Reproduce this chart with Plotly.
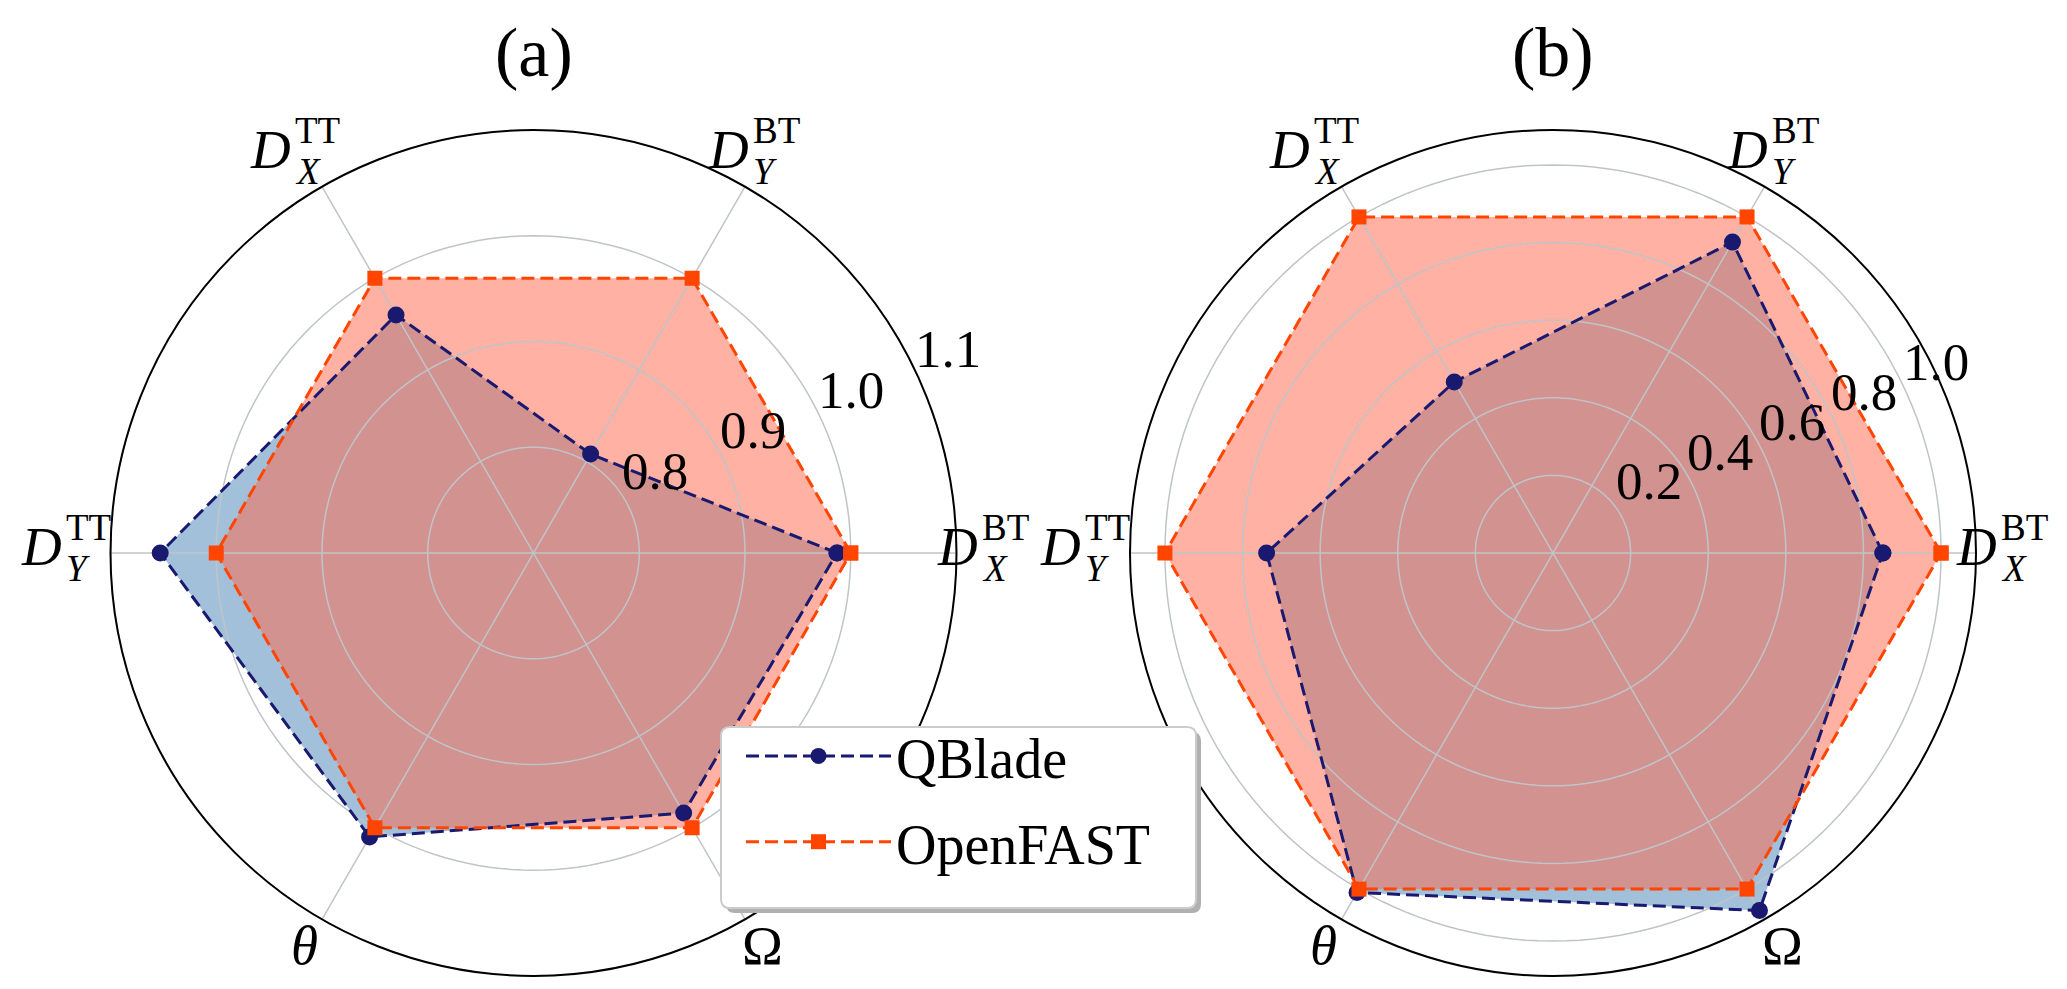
import math
import plotly.graph_objects as go

# ---------------- data ----------------
categories = ["D_X^BT", "D_Y^BT", "D_X^TT", "D_Y^TT", "theta", "Omega"]
label_main = ["D", "D", "D", "D", "θ", "Ω"]
label_sup = ["BT", "BT", "TT", "TT", "", ""]
label_sub = ["X", "Y", "X", "Y", "", ""]
label_italic = [True, True, True, True, True, False]

series_names = ["QBlade", "OpenFAST"]
qblade_a = [0.987, 0.808, 0.960, 1.053, 1.010, 0.984]
openfast_a = [1.0, 1.0, 1.0, 1.0, 1.0, 1.0]
qblade_b = [0.850, 0.925, 0.509, 0.738, 1.010, 1.064]
openfast_b = [1.0, 1.0, 1.0, 1.0, 1.0, 1.0]

panel_titles = ["(a)", "(b)"]
ticks_a = [0.8, 0.9, 1.0, 1.1]
ticks_b = [0.2, 0.4, 0.6, 0.8, 1.0]
range_a = [0.7, 1.1]
range_b = [0.0, 1.09]

# ---------------- style / layout ----------------
W, H = 2067, 989
R = 423
centers = [(525.5, 545.0), (1545.0, 545.0)]
FONT = "Liberation Serif"
QCOL = "#191970"
OCOL = "#FF4500"
QFILL = "rgba(70,130,180,0.5)"
OFILL = "rgba(255,99,71,0.5)"
GRID = "#c0c4c8"
RAD_LABEL_ANGLE = 22.5

n = len(categories)
angles = [i * 360.0 / n for i in range(n)]

panels = [
    dict(q=qblade_a, o=openfast_a, ticks=ticks_a, rng=range_a, title=panel_titles[0]),
    dict(q=qblade_b, o=openfast_b, ticks=ticks_b, rng=range_b, title=panel_titles[1]),
]


def px(x):
    return x / W


def py(y):
    return 1 - y / H


def ann(text, x, y, size, xanchor="center", yshift=0):
    return dict(text=text, x=px(x), y=py(y), xref="paper", yref="paper",
                xanchor=xanchor, yanchor="middle", yshift=yshift, showarrow=False,
                borderpad=0, font=dict(family=FONT, size=size, color="black"))


fig = go.Figure()
annotations = []
layout_polars = {}

for k, p in enumerate(panels):
    sub = "polar" if k == 0 else "polar2"
    th = angles + angles[:1]
    q = p["q"] + p["q"][:1]
    o = p["o"] + p["o"][:1]
    # fills
    fig.add_trace(go.Scatterpolar(r=q, theta=th, mode="lines", line=dict(width=0, color=QCOL),
                                  fill="toself", fillcolor=QFILL, subplot=sub,
                                  showlegend=False, hoverinfo="skip"))
    fig.add_trace(go.Scatterpolar(r=o, theta=th, mode="lines", line=dict(width=0, color=OCOL),
                                  fill="toself", fillcolor=OFILL, subplot=sub,
                                  showlegend=False, hoverinfo="skip"))
    # grid rings and spokes (above fills, below lines)
    ring_theta = list(range(0, 361, 2))
    for t in p["ticks"]:
        fig.add_trace(go.Scatterpolar(r=[t] * len(ring_theta), theta=ring_theta, mode="lines",
                                      line=dict(color=GRID, width=1.5), subplot=sub,
                                      showlegend=False, hoverinfo="skip"))
    for a in angles:
        fig.add_trace(go.Scatterpolar(r=[p["rng"][0], p["rng"][1]], theta=[a, a], mode="lines",
                                      line=dict(color=GRID, width=1.5), subplot=sub,
                                      showlegend=False, hoverinfo="skip"))
    # data lines
    fig.add_trace(go.Scatterpolar(r=q, theta=th, mode="lines+markers", name=series_names[0],
                                  legendgroup="g1",
                                  line=dict(color=QCOL, width=3, dash="13px,6px"),
                                  marker=dict(symbol="circle", size=17, color=QCOL),
                                  subplot=sub, showlegend=(k == 0)))
    fig.add_trace(go.Scatterpolar(r=o, theta=th, mode="lines+markers", name=series_names[1],
                                  legendgroup="g2",
                                  line=dict(color=OCOL, width=3, dash="13px,6px"),
                                  marker=dict(symbol="square", size=15, color=OCOL),
                                  subplot=sub, showlegend=(k == 0)))

    cx, cy = centers[k]
    layout_polars[sub] = dict(
        domain=dict(x=[px(cx - R), px(cx + R)], y=[py(cy + R), py(cy - R)]),
        bgcolor="white",
        radialaxis=dict(range=p["rng"], tickvals=p["ticks"], showticklabels=False,
                        showline=False, ticks="", showgrid=False),
        angularaxis=dict(direction="counterclockwise", rotation=0, tickvals=angles,
                         showticklabels=False, ticks="", showgrid=False,
                         showline=True, linecolor="black", linewidth=2),
    )

    # panel title
    annotations.append(ann(p["title"], cx, 44, 70))
    # radial tick labels, placed along the 22.5 degree direction
    ca = math.cos(math.radians(RAD_LABEL_ANGLE))
    sa = math.sin(math.radians(RAD_LABEL_ANGLE))
    r0, r1 = p["rng"]
    for t in p["ticks"]:
        rho = (t - r0) / (r1 - r0) * R
        annotations.append(ann(f"{t:.1f}", cx + rho * ca + 58, cy - rho * sa - 42, 53,
                               xanchor="right"))
    # category labels
    RL = 458
    for i in range(n):
        a = math.radians(angles[i])
        lx = cx + RL * math.cos(a)
        ly = cy - RL * math.sin(a)
        main = f"<i>{label_main[i]}</i>" if label_italic[i] else label_main[i]
        if label_sup[i]:
            jx = lx - 13
            s = 7
            annotations.append(ann(main, jx, ly, 55, xanchor="right", yshift=s))
            annotations.append(ann(label_sup[i], jx + 2, ly, 37, xanchor="left", yshift=s + 19))
            annotations.append(ann(f"<i>{label_sub[i]}</i>", jx + 2, ly, 37, xanchor="left",
                                   yshift=s - 22))
        else:
            annotations.append(ann(main, lx, ly, 55, yshift=4))


# legend frame (rounded box with drop shadow) drawn as shapes behind the legend
def rounded_rect(x0, y0, x1, y1, rad):
    pts = [
        f"M{px(x0 + rad)},{py(y0)}",
        f"L{px(x1 - rad)},{py(y0)}",
        f"Q{px(x1)},{py(y0)} {px(x1)},{py(y0 + rad)}",
        f"L{px(x1)},{py(y1 - rad)}",
        f"Q{px(x1)},{py(y1)} {px(x1 - rad)},{py(y1)}",
        f"L{px(x0 + rad)},{py(y1)}",
        f"Q{px(x0)},{py(y1)} {px(x0)},{py(y1 - rad)}",
        f"L{px(x0)},{py(y0 + rad)}",
        f"Q{px(x0)},{py(y0)} {px(x0 + rad)},{py(y0)}",
        "Z",
    ]
    return " ".join(pts)


LX0, LY0, LX1, LY1 = 713, 719, 1188, 900
shapes = [
    dict(type="path", xref="paper", yref="paper", layer="above",
         path=rounded_rect(LX0 + 5, LY0 + 5, LX1 + 5, LY1 + 5, 9),
         fillcolor="#b0b0b0", line=dict(width=0)),
    dict(type="path", xref="paper", yref="paper", layer="above",
         path=rounded_rect(LX0, LY0, LX1, LY1, 9),
         fillcolor="white", line=dict(color="#cccccc", width=2)),
]

fig.update_layout(
    width=W, height=H,
    margin=dict(l=0, r=0, t=0, b=0),
    paper_bgcolor="white",
    plot_bgcolor="white",
    font=dict(family=FONT, color="black"),
    annotations=annotations,
    shapes=shapes,
    showlegend=True,
    legend=dict(x=px(733), y=py(705), xanchor="left", yanchor="top",
                bgcolor="rgba(0,0,0,0)", borderwidth=0, tracegroupgap=10,
                font=dict(family=FONT, size=56, color="black"), itemwidth=145),
    **layout_polars,
)

fig.write_html("out.html")
